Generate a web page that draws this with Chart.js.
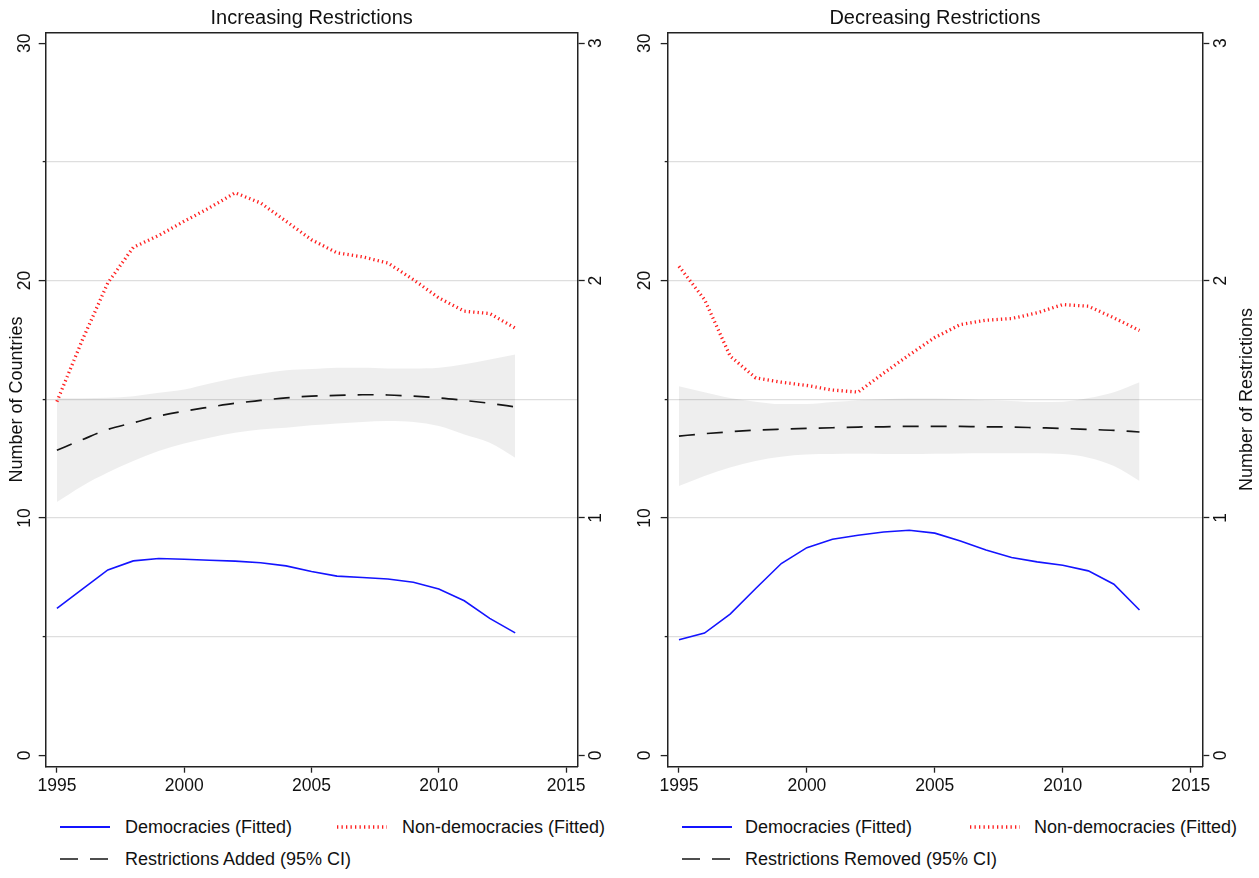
<!DOCTYPE html>
<html>
<head>
<meta charset="utf-8">
<script src="https://cdn.jsdelivr.net/npm/chart.js@4.4.1/dist/chart.umd.min.js"></script>
<style>
  html, body { margin: 0; padding: 0; background: #fff; overflow: hidden; }
  #wrap { position: relative; width: 1259px; height: 878px; font-family: "Liberation Sans", Arial, Helvetica, sans-serif; color: #111; }
  canvas { position: absolute; top: 0; }
  .lg { position: absolute; height: 20px; }
  .lg svg { position: absolute; top: 0; left: 0; }
  .lg span { position: absolute; top: 0; white-space: nowrap; font-size: 18px; line-height: 20px; }
</style>
</head>
<body>
<div id="wrap">
  <canvas id="c1" width="629" height="800" style="left:0px;width:629px;height:800px"></canvas>
  <canvas id="c2" width="630" height="800" style="left:629px;width:630px;height:800px"></canvas>
</div>
<script>
// ---------------- data ----------------
const years = [1995,1996,1997,1998,1999,2000,2001,2002,2003,2004,2005,2006,2007,2008,2009,2010,2011,2012,2013];
const xTicks = [1995, 2000, 2005, 2010, 2015];
const yTicksCountries = [0, 5, 10, 15, 20, 25, 30];
const yTicksRestrictions = [0, 1, 2, 3];

const titleInc = "Increasing Restrictions";
const titleDec = "Decreasing Restrictions";
const yTitleLeft = "Number of Countries";
const yTitleRight = "Number of Restrictions";
const demLabel = "Democracies (Fitted)";
const nonDemLabel = "Non-democracies (Fitted)";
const addedLabel = "Restrictions Added (95% CI)";
const removedLabel = "Restrictions Removed (95% CI)";

// Increasing restrictions (left panel)
const incDem    = [6.19, 7.00, 7.81, 8.19, 8.29, 8.26, 8.22, 8.18, 8.11, 7.98, 7.74, 7.55, 7.49, 7.43, 7.29, 7.01, 6.51, 5.77, 5.16];
const incNonDem = [14.9, 17.5, 19.9, 21.4, 21.9, 22.5, 23.07, 23.7, 23.27, 22.5, 21.72, 21.17, 21.0, 20.74, 20.04, 19.27, 18.71, 18.61, 18.0];
const incAdded   = [1.285, 1.330, 1.373, 1.401, 1.429, 1.450, 1.467, 1.483, 1.495, 1.506, 1.513, 1.516, 1.519, 1.518, 1.513, 1.506, 1.495, 1.483, 1.468];
const incAddedHi = [1.504, 1.504, 1.506, 1.513, 1.527, 1.541, 1.566, 1.590, 1.607, 1.622, 1.627, 1.633, 1.633, 1.630, 1.630, 1.633, 1.647, 1.668, 1.689];
const incAddedLo = [1.067, 1.135, 1.191, 1.240, 1.282, 1.314, 1.338, 1.359, 1.373, 1.380, 1.390, 1.398, 1.404, 1.408, 1.404, 1.387, 1.352, 1.317, 1.254];

// Decreasing restrictions (right panel)
const decDem    = [4.87, 5.15, 5.95, 7.03, 8.08, 8.75, 9.10, 9.27, 9.41, 9.48, 9.36, 9.03, 8.65, 8.33, 8.15, 8.01, 7.77, 7.21, 6.12];
const decNonDem = [20.6, 19.2, 16.82, 15.9, 15.72, 15.58, 15.39, 15.3, 16.1, 16.87, 17.6, 18.15, 18.33, 18.4, 18.64, 18.99, 18.92, 18.43, 17.9];
const decRemoved   = [1.345, 1.355, 1.363, 1.370, 1.374, 1.377, 1.380, 1.383, 1.384, 1.386, 1.386, 1.386, 1.384, 1.383, 1.380, 1.377, 1.373, 1.369, 1.362];
const decRemovedHi = [1.555, 1.530, 1.505, 1.490, 1.480, 1.480, 1.488, 1.496, 1.500, 1.503, 1.503, 1.500, 1.496, 1.493, 1.488, 1.490, 1.505, 1.530, 1.572];
const decRemovedLo = [1.135, 1.177, 1.212, 1.240, 1.258, 1.267, 1.269, 1.270, 1.269, 1.269, 1.270, 1.272, 1.273, 1.273, 1.273, 1.269, 1.254, 1.219, 1.156];

// ---------------- styles ----------------
const FONT = '"Liberation Sans", Arial, Helvetica, sans-serif';
Chart.defaults.font.family = FONT;
Chart.defaults.color = '#111';
const FRAME = '#222';
const GRID = '#dedede';
const BLUE = '#1414ff';
const RED = 'rgb(255,30,30)';
const DARK = '#151515';
const BAND = 'rgba(0,0,0,0.065)';
const X_MIN = 1994.56, X_MAX = 2015.455;
const Y_MIN = -0.48, Y_MAX = 30.46;

const rightTitlePlugin = {
  id: 'rightTitle',
  afterDraw(chart, args, opts) {
    if (!opts || !opts.text) return;
    const s = chart.scales.y2;
    const ca = chart.chartArea;
    const ctx = chart.ctx;
    ctx.save();
    ctx.translate(s.right - opts.offset, (ca.top + ca.bottom) / 2);
    ctx.rotate(-Math.PI / 2);
    ctx.font = '18px ' + FONT;
    ctx.fillStyle = '#111';
    ctx.textAlign = 'center';
    ctx.textBaseline = 'middle';
    ctx.fillText(opts.text, 0, 0);
    ctx.restore();
  }
};

function makeChart(id, cfg) {
  const toXY = arr => years.map((yr, i) => ({ x: yr, y: arr[i] }));
  const isMinor = c => c.tick && (c.tick.value % 10 !== 0);
  return new Chart(document.getElementById(id), {
    type: 'line',
    data: {
      datasets: [
        { label: demLabel, data: toXY(cfg.dem), yAxisID: 'y', borderColor: BLUE, borderWidth: 1.6,
          pointRadius: 0, tension: 0, fill: false },
        { label: nonDemLabel, data: toXY(cfg.nonDem), yAxisID: 'y', borderColor: RED, borderWidth: 3.3,
          borderDash: [1.3, 3.1], pointRadius: 0, tension: 0, fill: false },
        { label: cfg.fitLabel, data: toXY(cfg.fit), yAxisID: 'y2', borderColor: DARK, borderWidth: 1.7,
          borderDash: [16, 12], pointRadius: 0, cubicInterpolationMode: 'monotone', fill: false },
        { label: 'CI upper', data: toXY(cfg.hi), yAxisID: 'y2', borderColor: 'rgba(0,0,0,0)', borderWidth: 0,
          pointRadius: 0, cubicInterpolationMode: 'monotone', fill: false },
        { label: 'CI lower', data: toXY(cfg.lo), yAxisID: 'y2', borderColor: 'rgba(0,0,0,0)', borderWidth: 0,
          pointRadius: 0, cubicInterpolationMode: 'monotone', fill: '-1', backgroundColor: BAND }
      ]
    },
    plugins: [rightTitlePlugin],
    options: {
      responsive: false,
      animation: false,
      devicePixelRatio: 1,
      layout: { padding: 0 },
      events: [],
      plugins: {
        legend: { display: false },
        tooltip: { enabled: false },
        title: { display: true, text: cfg.title, fullSize: false, color: '#111',
                 font: { size: 20, weight: 'normal' }, padding: { top: 6.3, bottom: 2 } },
        rightTitle: { text: cfg.rightTitle || '', offset: 12 }
      },
      scales: {
        x: {
          type: 'linear', position: 'bottom', min: X_MIN, max: X_MAX,
          afterBuildTicks: s => { s.ticks = xTicks.map(v => ({ value: v })); },
          afterFit: s => { s.height = 33.3; },
          ticks: { color: '#111', font: { size: 17.5 }, padding: 3.3, autoSkip: false, maxRotation: 0,
                   callback: v => String(v) },
          grid: { drawOnChartArea: false, drawTicks: true, tickLength: 6, tickColor: FRAME, tickWidth: 1.3 },
          border: { display: true, color: FRAME, width: 1.5 }
        },
        xTop: {
          type: 'linear', position: 'top', min: X_MIN, max: X_MAX,
          afterFit: s => { s.height = 0; },
          ticks: { display: false },
          grid: { display: false, drawTicks: false },
          border: { display: true, color: FRAME, width: 1.5 }
        },
        y: {
          type: 'linear', position: 'left', min: Y_MIN, max: Y_MAX,
          afterBuildTicks: s => { s.ticks = yTicksCountries.map(v => ({ value: v })); },
          afterFit: s => { s.width = cfg.leftW; },
          ticks: { color: '#111', font: { size: 17.5 }, padding: cfg.leftPad, crossAlign: 'center',
                   minRotation: 90, maxRotation: 90, autoSkip: false,
                   callback: v => (v % 10 === 0 ? String(v) : '') },
          grid: {
            color: c => (c.tick && c.tick.value > 0 && c.tick.value < 30) ? GRID : 'rgba(0,0,0,0)',
            lineWidth: 1.2, tickLength: 7, tickColor: FRAME, tickWidth: 1.3,
            tickBorderDash: c => isMinor(c) ? [3, 20] : [],
            tickBorderDashOffset: c => isMinor(c) ? 19 : 0
          },
          border: { display: true, color: FRAME, width: 1.5 },
          title: cfg.leftTitle
            ? { display: true, text: cfg.leftTitle, color: '#111', font: { size: 18 }, padding: { top: 5.9, bottom: 0 } }
            : { display: false }
        },
        y2: {
          type: 'linear', position: 'right', min: Y_MIN / 10, max: Y_MAX / 10,
          afterBuildTicks: s => { s.ticks = yTicksRestrictions.map(v => ({ value: v })); },
          afterFit: s => { s.width = cfg.rightW; },
          ticks: { color: '#111', font: { size: 17.5 }, padding: cfg.rightPad, crossAlign: 'center',
                   minRotation: 90, maxRotation: 90, autoSkip: false, callback: v => String(v) },
          grid: { drawOnChartArea: false, tickLength: 7, tickColor: FRAME, tickWidth: 1.3 },
          border: { display: true, color: FRAME, width: 1.5 }
        }
      }
    }
  });
}

makeChart('c1', {
  title: titleInc, dem: incDem, nonDem: incNonDem, fit: incAdded, hi: incAddedHi, lo: incAddedLo,
  fitLabel: addedLabel, leftTitle: yTitleLeft, rightTitle: '',
  leftW: 45.7, rightW: 51.3, leftPad: 4, rightPad: 6.4
});
makeChart('c2', {
  title: titleDec, dem: decDem, nonDem: decNonDem, fit: decRemoved, hi: decRemovedHi, lo: decRemovedLo,
  fitLabel: removedLabel, leftTitle: '', rightTitle: yTitleRight,
  leftW: 38.7, rightW: 56.7, leftPad: 6, rightPad: 6.8
});

// ---------------- legends (HTML, real text) ----------------
const SAMPLE = {
  dem:  '<line x1="0" y1="10" x2="50" y2="10" stroke="' + BLUE + '" stroke-width="1.8"/>',
  non:  '<line x1="0" y1="10" x2="50" y2="10" stroke="' + RED + '" stroke-width="3.5" stroke-dasharray="1.3 3.2"/>',
  fit:  '<line x1="0" y1="10" x2="50" y2="10" stroke="' + DARK + '" stroke-width="1.6" stroke-dasharray="18 12"/>'
};
function legendItem(left, cy, textLeft, kind, text) {
  const d = document.createElement('div');
  d.className = 'lg';
  d.style.left = left + 'px';
  d.style.top = (cy - 10) + 'px';
  d.innerHTML = '<svg width="50" height="20">' + SAMPLE[kind] + '</svg>';
  const s = document.createElement('span');
  s.style.left = (textLeft - left) + 'px';
  s.textContent = text;
  d.appendChild(s);
  document.getElementById('wrap').appendChild(d);
}
legendItem(60, 827, 125, 'dem', demLabel);
legendItem(337, 827, 402, 'non', nonDemLabel);
legendItem(60, 859, 125, 'fit', addedLabel);
legendItem(682, 827, 745, 'dem', demLabel);
legendItem(970, 827, 1034, 'non', nonDemLabel);
legendItem(682, 859, 745, 'fit', removedLabel);
</script>
</body>
</html>
